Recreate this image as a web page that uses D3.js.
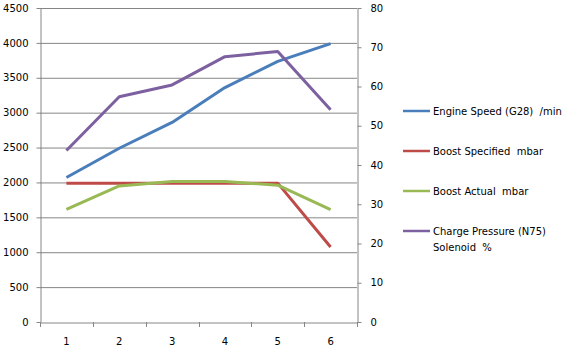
<!DOCTYPE html>
<html><head><meta charset="utf-8">
<script src="https://cdn.jsdelivr.net/npm/d3@7"></script>
<style>body{margin:0;background:#fff}text{font-family:"DejaVu Sans",Verdana,sans-serif;font-size:10px;fill:#000;white-space:pre}</style>
</head><body><svg id="c" width="578" height="354"></svg>
<script>
const categories = [1, 2, 3, 4, 5, 6];
const engineSpeed = [2070, 2490, 2860, 3360, 3735, 3990];
const boostSpecified = [1990, 1990, 1990, 1990, 1990, 1075];
const boostActual = [1615, 1950, 2015, 2015, 1960, 1610];
const chargePressure = [43.7, 57.4, 60.4, 67.6, 68.9, 54.1];
const leftTicks = [0, 500, 1000, 1500, 2000, 2500, 3000, 3500, 4000, 4500];
const rightTicks = [0, 10, 20, 30, 40, 50, 60, 70, 80];
const seriesNames = ["Engine Speed (G28)  /min", "Boost Specified  mbar", "Boost Actual  mbar", "Charge Pressure (N75)\nSolenoid  %"];
const colors = ["#4a7ebb", "#be4b48", "#98b954", "#7d60a0"];

const svg = d3.select("#c");
const L = 40, R = 357, T = 8, B = 322;
const x = d3.scaleBand().domain(categories).range([L, R]);
const yL = d3.scaleLinear().domain([0, 4500]).range([B, T]);
const yR = d3.scaleLinear().domain([0, 80]).range([B, T]);

// gridlines
svg.append("g").selectAll("line").data(leftTicks.filter(d => d > 0)).join("line")
  .attr("x1", L).attr("x2", R).attr("y1", d => yL(d) + 0.5).attr("y2", d => yL(d) + 0.5)
  .attr("stroke", "#868686").attr("stroke-width", 1);

function styleAxis(g) {
  g.selectAll(".domain").attr("stroke", "#868686");
  g.selectAll(".tick line").attr("stroke", "#868686");
  g.selectAll("text").style("font-family", '"DejaVu Sans",Verdana,sans-serif').style("font-size", "10px").attr("fill", "#000");
}
const gl = svg.append("g").attr("transform", `translate(${L + 0.5},0)`)
  .call(d3.axisLeft(yL).tickValues(leftTicks).tickFormat(d3.format("d")).tickSize(4).tickSizeOuter(0).tickPadding(8));
styleAxis(gl);
const gr = svg.append("g").attr("transform", `translate(${R + 0.5},0)`)
  .call(d3.axisRight(yR).tickValues(rightTicks).tickFormat(d3.format("d")).tickSize(4).tickSizeOuter(0).tickPadding(9));
styleAxis(gr);
const gb = svg.append("g").attr("transform", `translate(0,${B + 0.5})`)
  .call(d3.axisBottom(x).tickSize(0).tickPadding(15));
styleAxis(gb);
// category boundary ticks
svg.append("g").selectAll("line").data(categories.concat([null])).join("line")
  .attr("x1", (d, i) => Math.round(L + i * x.step()) + 0.5)
  .attr("x2", (d, i) => Math.round(L + i * x.step()) + 0.5)
  .attr("y1", B).attr("y2", B + 5).attr("stroke", "#868686");

const cx = d => x(d) + x.bandwidth() / 2;
const series = [
  {v: engineSpeed, y: yL}, {v: boostSpecified, y: yL}, {v: boostActual, y: yL}, {v: chargePressure, y: yR}
];
series.forEach((s, i) => {
  svg.append("path")
    .attr("d", d3.line().x((d, j) => cx(categories[j])).y(d => s.y(d))(s.v))
    .attr("fill", "none").attr("stroke", colors[i]).attr("stroke-width", 3)
    .attr("stroke-linejoin", "round");
});

// legend
const ly = [111, 151, 191, 231];
const lg = svg.append("g");
seriesNames.forEach((n, i) => {
  lg.append("line").attr("x1", 403).attr("x2", 430).attr("y1", ly[i]).attr("y2", ly[i])
    .attr("stroke", colors[i]).attr("stroke-width", 2.5);
  const t = lg.append("text").attr("x", 433).attr("y", ly[i] + 4).attr("xml:space", "preserve");
  n.split("\n").forEach((part, k) => {
    t.append("tspan").attr("x", 433).attr("dy", k ? 16 : 0).text(part);
  });
});
</script></body></html>
